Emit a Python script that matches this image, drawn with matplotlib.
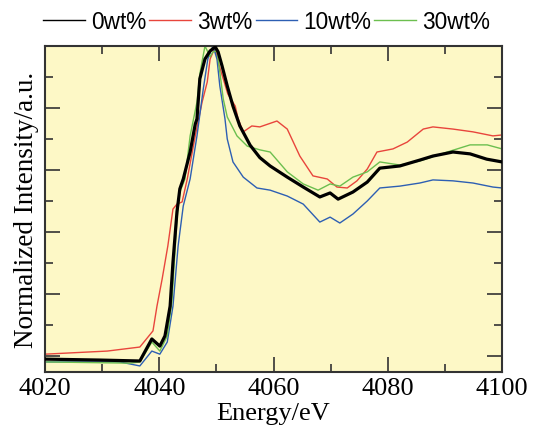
"""
XANES spectra of S K-edge for different loadings
"""

import matplotlib.pyplot as plt
from matplotlib.lines import Line2D
from matplotlib.ticker import MultipleLocator

# Energy (eV) and normalized intensity
e_0 = [4020, 4029.6, 4036.6, 4038.7, 4040.1, 4041.0, 4041.9, 4042.4, 4043.1, 4043.6,
       4044.2, 4045.4, 4046.3, 4046.6, 4047.1, 4048.0, 4048.9, 4049.8, 4050.3, 4051.0,
       4051.9, 4052.9, 4054.1, 4055.9, 4057.6, 4059.4, 4062.4, 4065.2, 4068.1, 4069.9,
       4071.3, 4073.9, 4076.4, 4078.6, 4082.1, 4085.6, 4087.9, 4091.4, 4094.4, 4097.3, 4100]
i_0 = [-0.010, -0.013, -0.016, 0.055, 0.032, 0.065, 0.161, 0.303, 0.465, 0.539,
       0.571, 0.658, 0.748, 0.765, 0.894, 0.958, 0.984, 0.997, 0.981, 0.935,
       0.871, 0.806, 0.742, 0.680, 0.640, 0.613, 0.577, 0.545, 0.513, 0.526,
       0.506, 0.529, 0.561, 0.606, 0.613, 0.632, 0.645, 0.658, 0.652, 0.635, 0.626]

e_3 = [4020, 4030.9, 4036.6, 4038.9, 4039.6, 4040.5, 4041.5, 4042.4, 4043.1, 4044.0,
       4044.9, 4046.3, 4047.5, 4048.4, 4048.9, 4049.8, 4050.3, 4051.2, 4052.0, 4053.3,
       4053.8, 4054.7, 4056.2, 4057.6, 4060.6, 4062.4, 4064.6, 4066.9, 4069.4, 4071.1,
       4072.9, 4074.6, 4076.4, 4078.1, 4080.9, 4083.4, 4086.2, 4087.9, 4091.4, 4094.9,
       4098.4, 4100]
i_3 = [0.006, 0.016, 0.029, 0.081, 0.161, 0.248, 0.355, 0.474, 0.490, 0.497,
       0.571, 0.710, 0.819, 0.884, 0.958, 0.997, 0.948, 0.894, 0.845, 0.806,
       0.765, 0.723, 0.742, 0.739, 0.758, 0.732, 0.645, 0.581, 0.571, 0.545,
       0.542, 0.565, 0.603, 0.658, 0.668, 0.690, 0.732, 0.739, 0.732, 0.723,
       0.710, 0.713]

e_10 = [4020, 4033.1, 4036.6, 4038.7, 4040.1, 4041.4, 4042.4, 4043.3, 4044.2, 4045.4,
        4046.6, 4047.7, 4048.5, 4049.4, 4050.1, 4050.6, 4051.5, 4051.9, 4052.9, 4054.7,
        4057.1, 4059.4, 4062.4, 4065.2, 4068.1, 4069.9, 4071.6, 4073.9, 4076.4, 4078.6,
        4082.1, 4085.6, 4087.9, 4091.4, 4094.9, 4098.4, 4100]
i_10 = [-0.019, -0.019, -0.032, 0.016, 0.006, 0.045, 0.161, 0.355, 0.484, 0.571,
        0.710, 0.861, 0.958, 1.000, 0.958, 0.871, 0.765, 0.700, 0.626, 0.577,
        0.542, 0.535, 0.516, 0.490, 0.432, 0.448, 0.429, 0.458, 0.500, 0.542,
        0.548, 0.558, 0.568, 0.565, 0.558, 0.545, 0.542]

e_30 = [4020, 4034.9, 4036.6, 4038.7, 4040.1, 4041.4, 4042.2, 4043.1, 4043.6, 4044.5,
        4045.4, 4046.6, 4047.1, 4048.0, 4048.9, 4049.4, 4050.1, 4050.6, 4051.2, 4051.9,
        4053.6, 4055.4, 4057.6, 4059.4, 4062.4, 4065.2, 4067.8, 4069.9, 4071.6, 4073.9,
        4076.4, 4078.6, 4082.1, 4085.6, 4090.4, 4094.4, 4097.4, 4100]
i_30 = [-0.019, -0.023, -0.019, 0.045, 0.016, 0.065, 0.174, 0.442, 0.529, 0.571,
        0.710, 0.819, 0.910, 1.000, 0.965, 0.981, 0.984, 0.916, 0.829, 0.771,
        0.710, 0.677, 0.665, 0.658, 0.594, 0.555, 0.535, 0.555, 0.548, 0.577,
        0.594, 0.626, 0.616, 0.629, 0.658, 0.681, 0.681, 0.668]

labels = ['0wt%', '3wt%', '10wt%', '30wt%']
colors = ['black', '#e8453c', '#2d5fb3', '#6cbf4f']

plt.rcParams['font.family'] = 'Liberation Serif'

fig = plt.figure(figsize=(5.33, 4.39), dpi=100)
ax = fig.add_axes([0.0844, 0.150, 0.8576, 0.743])
ax.set_facecolor('#fdf8c6')

ax.plot(e_0, i_0, color=colors[0], lw=2.3, zorder=5)
ax.plot(e_3, i_3, color=colors[1], lw=1.0)
ax.plot(e_10, i_10, color=colors[2], lw=1.0)
ax.plot(e_30, i_30, color=colors[3], lw=1.0)

ax.set_xlim(4020, 4100)
ax.set_ylim(-0.052, 1.0)
ax.xaxis.set_major_locator(MultipleLocator(20))
ax.xaxis.set_minor_locator(MultipleLocator(10))
ax.yaxis.set_major_locator(MultipleLocator(0.2))
ax.yaxis.set_minor_locator(MultipleLocator(0.1))
ax.tick_params(which='both', direction='in', top=True, right=True,
               labelleft=False, labelsize=19, color='#333333', width=1.2)
ax.tick_params(which='major', length=11)
ax.tick_params(which='minor', length=6)
for s in ax.spines.values():
    s.set_color('#333333')
    s.set_linewidth(1.5)

ax.set_xlabel('Energy/eV', fontsize=19, labelpad=2)
ax.set_ylabel('Normalized Intensity/a.u.', fontsize=19.5, labelpad=4)

# legend uses thin lines for every entry
handles = [Line2D([], [], color=c, lw=1.0) for c in colors]
fig.legend(handles, labels,
           loc='center', bbox_to_anchor=(0.5, 0.948), ncol=4, frameon=False,
           prop={'family': 'Liberation Sans', 'size': 16.3},
           handlelength=1.85, handletextpad=0.25, columnspacing=0.15)

plt.savefig('out.png', dpi=100)
